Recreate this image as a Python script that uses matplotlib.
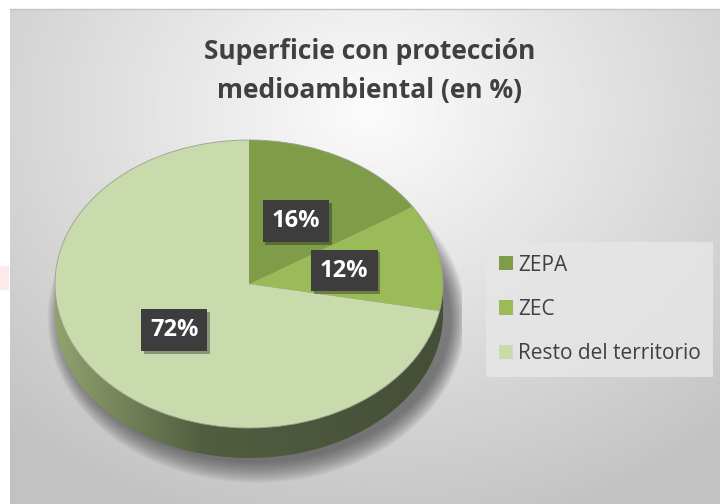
import numpy as np
import matplotlib
matplotlib.use("Agg")
import matplotlib.pyplot as plt
import matplotlib.patheffects as pe
from matplotlib.patches import Polygon, Ellipse, Rectangle
from matplotlib.lines import Line2D

plt.rcParams['font.family'] = ['Open Sans', 'DejaVu Sans']

# data
labels = ['ZEPA', 'ZEC', 'Resto del territorio']
values = [16, 12, 72]
colors = ['#7f9d48', '#9bbb59', '#c9daad']
title_lines = ['Superficie con protección', 'medioambiental (en %)']

W, H = 720, 504
fig = plt.figure(figsize=(W / 100, H / 100), dpi=100, facecolor='white')

# background: grey radial gradient
bg = fig.add_axes([10 / W, 0, (W - 10) / W, (H - 9) / H])
xx, yy = np.meshgrid(np.linspace(10, W, 300), np.linspace(9, H, 220))
r = np.sqrt(((xx - 370) / 520) ** 2 + ((yy - 110) / 430) ** 2)
shade = np.clip(0.985 - 0.22 * r, 0.76, 1)
bg.imshow(shade, cmap='gray', vmin=0, vmax=1, extent=(10, W, H, 9), aspect='auto', interpolation='bilinear')
bg.set_xlim(10, W)
bg.set_ylim(H, 9)
bg.axis('off')
fig.add_artist(Line2D([10 / W, 1], [1 - 9 / H, 1 - 9 / H], color='#c4c4c4', lw=1))
fig.add_artist(Rectangle((0, 1 - 290 / H), 9 / W, 24 / H, color='#fde8ea', lw=0))

# pie axes, 1 unit = 194 px horizontally, 144 px vertically
cx, cy, rx, ry = 249, 284, 194, 144
xl, yt, yb = 1.1, 1.05, 1.45
ax = fig.add_axes([(cx - xl * rx) / W, (H - (cy + yb * ry)) / H,
                   2 * xl * rx / W, (yt + yb) * ry / H])
depth = 30 / ry

# soft shadow under the pie
for i in range(14):
    ax.add_patch(Ellipse((0.04, -depth - 0.03), 2.0 + 0.012 * i, 2.0 + 0.022 * i,
                         facecolor='#282828', alpha=0.05, lw=0, zorder=0))

# side of the cylinder
t = np.linspace(np.pi, 2 * np.pi, 200)
side = np.vstack([np.column_stack([np.cos(t), np.sin(t)]),
                  np.column_stack([np.cos(t[::-1]), np.sin(t[::-1]) - depth])])
side_patch = Polygon(side, closed=True, facecolor='none', edgecolor='none', zorder=1)
ax.add_patch(side_patch)
gx = np.linspace(-1, 1, 200)
c_left = np.array([0x92, 0xa2, 0x6e]) / 255
c_mid = np.array([0x52, 0x5e, 0x40]) / 255
c_right = np.array([0x45, 0x4e, 0x36]) / 255
grad = np.zeros((10, 200, 3))
for j, g in enumerate(gx):
    if g < -0.25:
        f = (g + 1) / 0.75
        grad[:, j] = c_left * (1 - f) + c_mid * f
    else:
        f = (g + 0.25) / 1.25
        grad[:, j] = c_mid * (1 - f) + c_right * f
im = ax.imshow(grad, extent=(-1, 1, -1 - depth, 0), aspect='auto', zorder=1)
im.set_clip_path(side_patch)

# top face
wedges, _, autotexts = ax.pie(values, colors=colors, startangle=90, counterclock=False,
                              radius=1, center=(0, 0), autopct=lambda p: f'{p:.0f}%',
                              pctdistance=0.5, wedgeprops=dict(linewidth=0, zorder=2),
                              textprops=dict(color='white', fontsize=17, fontweight='bold'))
for w in wedges:
    w.set_zorder(2)
for txt in autotexts:
    txt.set_zorder(5)
    txt.set_bbox(dict(boxstyle='square,pad=0.38', facecolor='#3d3d3d', edgecolor='none'))
    txt.get_bbox_patch().set_path_effects([pe.SimplePatchShadow(offset=(2, -2), alpha=0.35), pe.Normal()])
# thin rim on the top edge
ax.add_patch(Ellipse((0, 0), 2, 2, facecolor='none', edgecolor='#9aa08f', lw=0.6, zorder=3))

ax.set_aspect('auto')
ax.set_xlim(-xl, xl)
ax.set_ylim(-yb, yt)
ax.axis('off')

# title
for i, line in enumerate(title_lines):
    fig.text(370 / W, 1 - (59 + 39 * i) / H, line, ha='center', va='baseline',
             fontsize=19, fontweight='bold', color='#404040')

# legend
leg = fig.legend(wedges, labels, loc='upper left', bbox_to_anchor=(486 / W, 1 - 242 / H),
                 borderaxespad=0, frameon=True, fancybox=False, fontsize=15,
                 handlelength=0.68, handleheight=0.68, handletextpad=0.25,
                 labelspacing=1.12, borderpad=0.6)
leg.get_frame().set_facecolor('#e6e6e6')
leg.get_frame().set_edgecolor('none')
leg.get_frame().set_alpha(0.85)
for txt in leg.get_texts():
    txt.set_color('#404040')

fig.savefig('out.png', dpi=100, facecolor='white')
